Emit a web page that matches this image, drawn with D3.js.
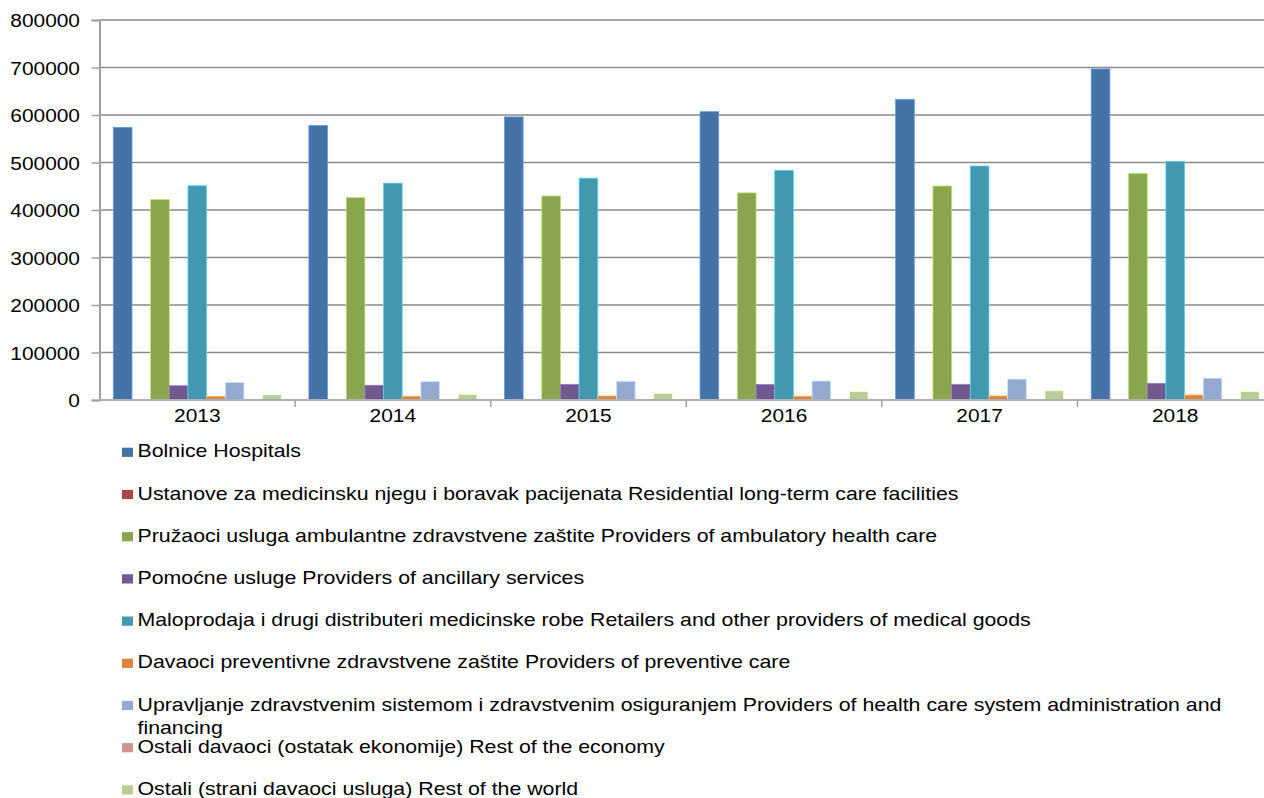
<!DOCTYPE html>
<html><head><meta charset="utf-8">
<script src="https://cdn.jsdelivr.net/npm/d3@7"></script>
<style>body{margin:0;background:#fff;overflow:hidden}svg{display:block}text{font-family:"Liberation Sans",Arial,sans-serif;fill:#000}</style>
</head><body>
<svg id="c" width="1264" height="798"></svg>
<script>
const years = ["2013","2014","2015","2016","2017","2018"];
const seriesNames = [
  "Bolnice Hospitals",
  "Ustanove za medicinsku njegu i boravak pacijenata Residential long-term care facilities",
  "Pružaoci usluga ambulantne zdravstvene zaštite Providers of ambulatory health care",
  "Pomoćne usluge Providers of ancillary services",
  "Maloprodaja i drugi distributeri medicinske robe Retailers and other providers of medical goods",
  "Davaoci preventivne zdravstvene zaštite Providers of preventive care",
  "Upravljanje zdravstvenim sistemom i zdravstvenim osiguranjem Providers of health care system administration and|financing",
  "Ostali davaoci (ostatak ekonomije) Rest of the economy",
  "Ostali (strani davaoci usluga) Rest of the world"
];
const colors = ["#4572A7","#AA4643","#89A54E","#71588F","#4198AF","#DB843D","#93A9CF","#D19392","#B9CD96"];
const hospitals   = [574000,578000,596000,607000,633000,697000];
const residential = [800,800,800,800,800,800];
const ambulatory  = [422000,426000,429500,436000,450500,477000];
const ancillary   = [30000,31000,33000,32500,33000,35000];
const retailers   = [451000,456500,467000,483500,492600,502000];
const preventive  = [7700,8000,8500,8000,8500,10500];
const admin       = [37000,39000,39500,40000,44000,46000];
const restEconomy = [0,0,0,1200,1200,1200];
const restWorld   = [11000,12000,13500,18000,19500,18000];
const seriesValues = [hospitals,residential,ambulatory,ancillary,retailers,preventive,admin,restEconomy,restWorld];
const yTicks = [0,100000,200000,300000,400000,500000,600000,700000,800000];

(function(){
const svg = d3.select("#c");
const SX = 1.1, SXL = 1.122;
const L = 99.5, R = 1273, T = 20, B = 400;
const x0 = d3.scaleBand().domain(years).range([L, R]);
const gw = x0.bandwidth();
const pad = 13.8;
const x1 = d3.scaleBand().domain(d3.range(seriesNames.length)).range([pad, gw - pad]);
const y = d3.scaleLinear().domain([0, 800000]).range([B, T]);

// gridlines
svg.append("g").selectAll("line").data(yTicks.filter(d=>d>0)).join("line")
  .attr("x1", L).attr("x2", R).attr("y1", d=>y(d)).attr("y2", d=>y(d))
  .attr("stroke", "#8a8a8a").attr("stroke-width", 1.5);

// y axis
const yAxis = svg.append("g").attr("transform", `translate(${L},0)`)
  .call(d3.axisLeft(y).tickValues(yTicks).tickSize(8).tickFormat(d3.format("d")));
yAxis.select(".domain").attr("stroke", "#a0a0a0").attr("stroke-width", 2);
yAxis.selectAll(".tick line").attr("stroke", "#a0a0a0").attr("stroke-width", 1.5);
yAxis.selectAll(".tick text").remove();
svg.append("g").selectAll("text").data(yTicks).join("text")
  .attr("transform", d => `translate(80,${y(d)+7.3}) scale(${SX},1)`)
  .attr("text-anchor", "end").attr("font-size", 19).text(d => d3.format("d")(d));

// bars
const groups = svg.append("g").selectAll("g").data(years).join("g")
  .attr("transform", d => `translate(${x0(d)},0)`);
groups.selectAll("rect").data((yr, i) => seriesValues.map((s, k) => ({k, v: s[i]}))).join("rect")
  .attr("x", d => x1(d.k)).attr("width", x1.bandwidth())
  .attr("y", d => y(d.v)).attr("height", d => B - y(d.v))
  .attr("fill", d => colors[d.k])
  .attr("stroke", d => d.v > 0 ? d3.color(colors[d.k]).brighter(0.9) : "none")
  .attr("stroke-width", 0.8);

// x axis
svg.append("line").attr("x1", L).attr("x2", R).attr("y1", B).attr("y2", B)
  .attr("stroke", "#b0b0b0").attr("stroke-width", 2);
svg.append("g").selectAll("line").data(years.slice(1).map(d => x0(d)).concat([R])).join("line")
  .attr("x1", d => d).attr("x2", d => d).attr("y1", B).attr("y2", B + 7)
  .attr("stroke", "#a0a0a0").attr("stroke-width", 1.5);
svg.append("g").selectAll("text").data(years).join("text")
  .attr("transform", d => `translate(${x0(d) + gw/2},421.8) scale(${SX},1)`)
  .attr("text-anchor", "middle").attr("font-size", 19).text(d => d);

// legend
const leg = svg.append("g").selectAll("g").data(seriesNames).join("g")
  .attr("transform", (d, i) => `translate(0,${457.3 + i*42.2})`);
leg.append("rect").attr("x", 122).attr("y", -9.6).attr("width", 11).attr("height", 9.2)
  .attr("fill", (d, i) => colors[i]);
leg.each(function(d) {
  const lines = d.split("|");
  lines.forEach((ln, j) => {
    d3.select(this).append("text")
      .attr("transform", `translate(137.5,${j*23.6}) scale(${SXL},1)`)
      .attr("font-size", 19).text(ln);
  });
});
})();
</script>
</body></html>
